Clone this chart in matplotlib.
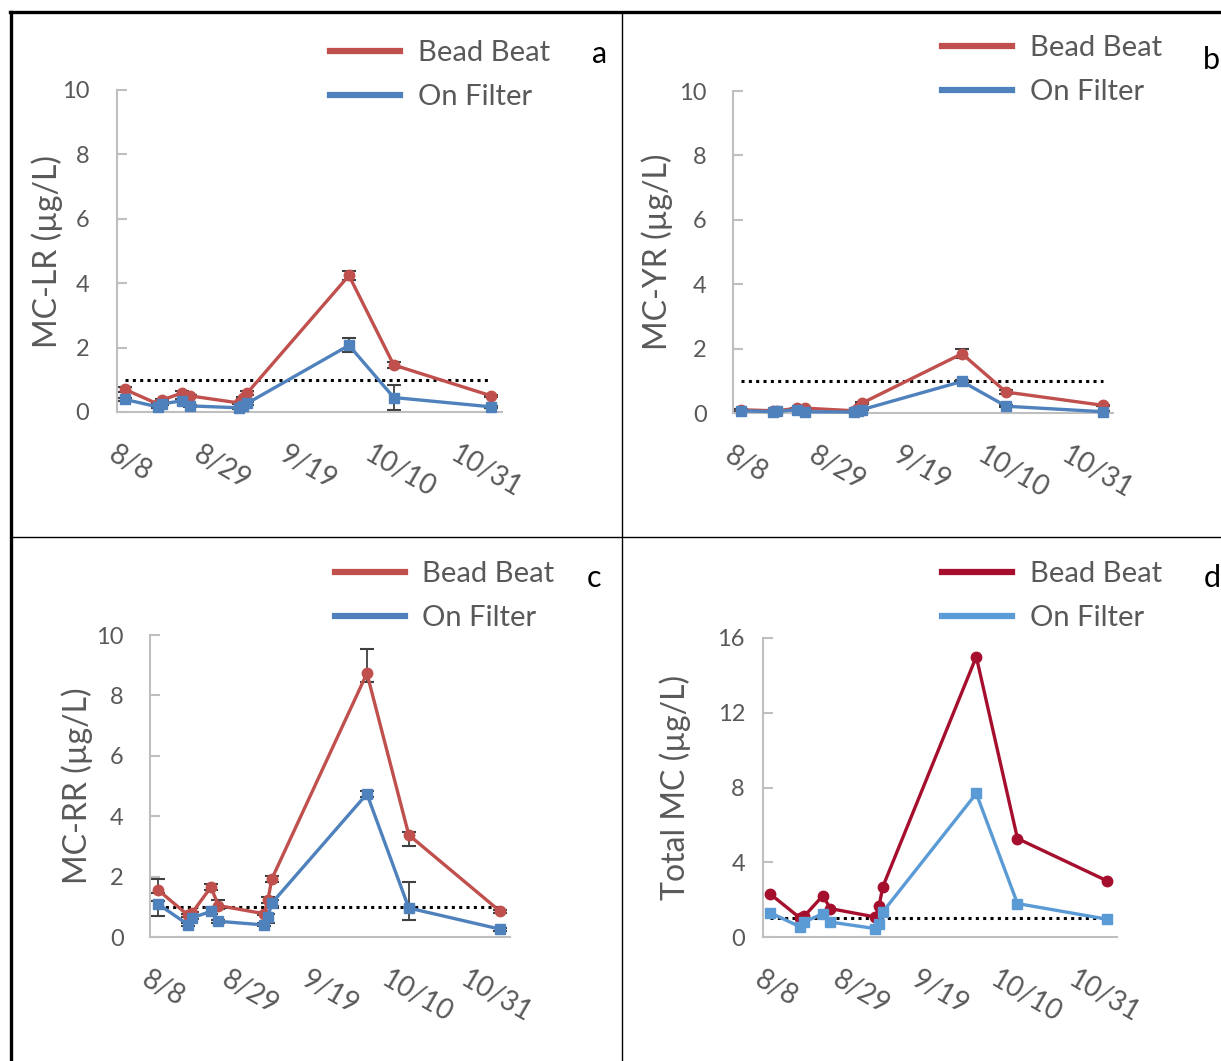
import numpy as np
import matplotlib
matplotlib.use('Agg')
import matplotlib.pyplot as plt
import matplotlib.dates as mdates
from matplotlib.lines import Line2D

plt.rcParams['font.family'] = ['Lato', 'DejaVu Sans']

# sampling dates
dates = ['2014-08-10', '2014-08-18', '2014-08-19', '2014-08-24', '2014-08-26',
         '2014-09-07', '2014-09-08', '2014-09-09', '2014-10-04', '2014-10-15', '2014-11-08']
tick_dates = ['2014-08-08', '2014-08-29', '2014-09-19', '2014-10-10', '2014-10-31']
tick_labels = ['8/8', '8/29', '9/19', '10/10', '10/31']
threshold = 1.0

# a: MC-LR
lr_bead = [0.70, 0.25, 0.37, 0.59, 0.50, 0.28, 0.45, 0.59, 4.24, 1.46, 0.50]
lr_filt = [0.39, 0.16, 0.25, 0.35, 0.19, 0.13, 0.20, 0.27, 2.07, 0.45, 0.16]
lr_bead_err = [0.08, 0.03, 0.03, 0.05, 0.04, 0.03, 0.03, 0.05, 0.15, 0.08, 0.03]
lr_filt_err = [0.05, 0.03, 0.03, 0.05, 0.03, 0.03, 0.03, 0.05, 0.22, 0.38, 0.03]

# b: MC-YR
yr_bead = [0.10, 0.07, 0.07, 0.15, 0.15, 0.07, 0.15, 0.30, 1.84, 0.65, 0.24]
yr_filt = [0.07, 0.04, 0.05, 0.10, 0.04, 0.03, 0.06, 0.10, 0.98, 0.21, 0.04]
yr_bead_err = [0.02, 0.02, 0.02, 0.02, 0.02, 0.02, 0.02, 0.03, 0.14, 0.05, 0.02]
yr_filt_err = [0.02, 0.02, 0.02, 0.02, 0.02, 0.02, 0.02, 0.02, 0.06, 0.03, 0.02]

# c: MC-RR (lower, upper errors)
rr_bead = [1.57, 0.72, 0.79, 1.65, 1.04, 0.77, 1.23, 1.92, 8.73, 3.38, 0.85]
rr_filt = [1.10, 0.41, 0.63, 0.85, 0.52, 0.40, 0.67, 1.12, 4.74, 0.96, 0.26]
rr_bead_lo = [0.10, 0.05, 0.05, 0.10, 0.10, 0.05, 0.10, 0.10, 0.28, 0.36, 0.05]
rr_bead_hi = [0.35, 0.05, 0.05, 0.10, 0.20, 0.05, 0.10, 0.10, 0.80, 0.10, 0.05]
rr_filt_lo = [0.42, 0.05, 0.05, 0.10, 0.05, 0.05, 0.20, 0.10, 0.10, 0.39, 0.05]
rr_filt_hi = [0.10, 0.05, 0.05, 0.10, 0.05, 0.05, 0.10, 0.10, 0.10, 0.85, 0.05]

# d: total MC
tot_bead = [2.29, 1.00, 1.11, 2.21, 1.52, 1.07, 1.64, 2.68, 15.0, 5.27, 3.00]
tot_filt = [1.29, 0.54, 0.80, 1.25, 0.80, 0.45, 0.68, 1.34, 7.68, 1.79, 0.95]

x = mdates.datestr2num(dates)
xt = mdates.datestr2num(tick_dates)
xmin = xt[0]
xmax = xt[0] + 94.6

gray = '#595959'

fig = plt.figure(figsize=(12.21, 10.61), dpi=100)


def panel(rect, bead, filt, bead_err, filt_err, ylabel, yticks, red, blue,
          letter, leg_xy, letter_xy, ylab_x, ypad):
    ax = fig.add_axes(rect)
    if bead_err is not None:
        ax.errorbar(x, bead, yerr=bead_err, fmt='none', ecolor='#404040', elinewidth=1.3,
                    capsize=5, capthick=1.5, zorder=2, clip_on=False)
        ax.errorbar(x, filt, yerr=filt_err, fmt='none', ecolor='#404040', elinewidth=1.3,
                    capsize=5, capthick=1.5, zorder=2, clip_on=False)
    ax.hlines(threshold, x[0], x[-1], colors='black', linestyles=(0, (1, 1.4)), lw=2.2, zorder=1)
    ax.plot(x, bead, color=red, lw=2.4, marker='o', ms=7.5, zorder=3, clip_on=False)
    ax.plot(x, filt, color=blue, lw=2.4, marker='s', ms=7.5, zorder=3, clip_on=False)
    ax.set_xlim(xmin, xmax)
    ax.set_ylim(yticks[0], yticks[-1])
    ax.set_yticks(yticks)
    ax.set_xticks(xt)
    ax.set_xticklabels(tick_labels)
    for s in ['top', 'right']:
        ax.spines[s].set_visible(False)
    for s in ['left', 'bottom']:
        ax.spines[s].set_color('#BFBFBF')
        ax.spines[s].set_linewidth(1.5)
    ax.tick_params(axis='y', direction='in', length=7, width=1.5, color='#BFBFBF',
                   labelcolor=gray, labelsize=17, pad=ypad)
    ax.tick_params(axis='x', length=0, labelcolor=gray, labelsize=20, pad=21)
    plt.setp(ax.get_xticklabels(), rotation=-30, ha='left', va='top', rotation_mode='anchor')
    ax.set_ylabel(ylabel, fontsize=23, color=gray)
    ax.yaxis.set_label_coords(ylab_x, 0.5)
    handles = [Line2D([], [], color=red, lw=4.5), Line2D([], [], color=blue, lw=4.5)]
    fig.legend(handles, ['Bead Beat', 'On Filter'], loc='center left',
               bbox_to_anchor=(leg_xy[0] / 1221, 1 - leg_xy[1] / 1061), frameon=False,
               fontsize=21, handlelength=2.4, handletextpad=0.6, labelspacing=0.6,
               borderpad=0, borderaxespad=0, labelcolor=gray)
    fig.text(letter_xy[0] / 1221, 1 - letter_xy[1] / 1061, letter, fontsize=22,
             color='black', ha='center', va='center')
    return ax


panel([117 / 1221, 1 - 412 / 1061, 385 / 1221, 322 / 1061], lr_bead, lr_filt,
      lr_bead_err, lr_filt_err, 'MC-LR (µg/L)', [0, 2, 4, 6, 8, 10],
      '#C0504D', '#4F81BD', 'a', (330, 75), (600, 54), -0.14, 20)
panel([733 / 1221, 1 - 413 / 1061, 380 / 1221, 322 / 1061], yr_bead, yr_filt,
      yr_bead_err, yr_filt_err, 'MC-YR (µg/L)', [0, 2, 4, 6, 8, 10],
      '#C0504D', '#4F81BD', 'b', (942, 70), (1211, 60), -0.158, 19)
panel([150 / 1221, 1 - 937 / 1061, 360 / 1221, 302 / 1061], rr_bead, rr_filt,
      [rr_bead_lo, rr_bead_hi], [rr_filt_lo, rr_filt_hi], 'MC-RR (µg/L)',
      [0, 2, 4, 6, 8, 10], '#C0504D', '#4F81BD', 'c', (335, 596), (594, 578), -0.158, 19)
panel([763 / 1221, 1 - 937 / 1061, 354 / 1221, 299 / 1061], tot_bead, tot_filt,
      None, None, 'Total MC (µg/L)', [0, 4, 8, 12, 16],
      '#A50F2D', '#5B9BD5', 'd', (942, 596), (1212, 578), -0.203, 13)

# panel frame lines
fig.add_artist(Line2D([10 / 1221, 1], [1 - 12 / 1061, 1 - 12 / 1061], color='black', lw=2.4,
                      transform=fig.transFigure))
fig.add_artist(Line2D([11 / 1221, 11 / 1221], [0, 1 - 12 / 1061], color='black', lw=2.4,
                      transform=fig.transFigure))
fig.add_artist(Line2D([622 / 1221, 622 / 1221], [0, 1 - 12 / 1061], color='black', lw=1,
                      transform=fig.transFigure))
fig.add_artist(Line2D([11 / 1221, 1], [1 - 537 / 1061, 1 - 537 / 1061], color='black', lw=1,
                      transform=fig.transFigure))

fig.savefig('out.png', dpi=100)
